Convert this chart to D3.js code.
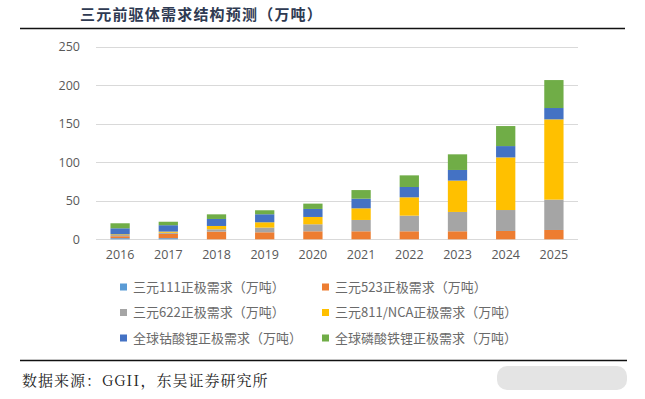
<!DOCTYPE html>
<html>
<head>
<meta charset="utf-8">
<script src="https://cdn.jsdelivr.net/npm/d3@7"></script>
<style>
  body { margin: 0; background: #fff; }
  svg { display: block; font-family: "Noto Sans CJK SC", "Noto Sans", sans-serif; }
</style>
</head>
<body>
<svg id="chart" width="645" height="399"></svg>
<script>
// years and tick labels
var years = ['2016', '2017', '2018', '2019', '2020', '2021', '2022', '2023', '2024', '2025']
var yTicks = [0, 50, 100, 150, 200, 250]

// demand per series (万吨)
var ncm111 = [1.5, 1.5, 0, 0, 0, 0, 0, 0, 0, 0]
var ncm523 = [2.5, 5.5, 10, 9.1, 10.4, 10.4, 10.4, 10.4, 10.8, 12.1]
var ncm622 = [1.5, 1.5, 3, 6.1, 9.1, 14.7, 20.3, 25.1, 27.2, 39.4]
var ncm811 = [1, 1.5, 4.3, 6.9, 9.5, 15.1, 23.8, 40.7, 68.3, 104.2]
var lco = [7.8, 8.3, 9.1, 10.4, 10.4, 12.5, 13.4, 13.8, 14.7, 14.7]
var lfp = [6.5, 4.5, 6, 5.2, 6.9, 11.2, 15.1, 20.3, 26, 36.3]

var seriesNames = ['三元111正极需求（万吨）', '三元523正极需求（万吨）', '三元622正极需求（万吨）',
  '三元811/NCA正极需求（万吨）', '全球钴酸锂正极需求（万吨）', '全球磷酸铁锂正极需求（万吨）']
var colors = ['#5b9bd5', '#ed7d31', '#a5a5a5', '#ffc000', '#4472c4', '#70ad47']

var svg = d3.select('#chart')

// title + rules
svg.append('text')
  .attr('x', 80).attr('y', 20)
  .attr('font-size', 15).attr('font-weight', 'bold')
  .attr('letter-spacing', 1.2)
  .attr('fill', '#2e3a52')
  .text('三元前驱体需求结构预测（万吨）')
svg.append('line').attr('x1', 20).attr('x2', 625).attr('y1', 28.5).attr('y2', 28.5)
  .attr('stroke', '#111').attr('stroke-width', 1.3)
svg.append('line').attr('x1', 20).attr('x2', 627).attr('y1', 360.5).attr('y2', 360.5)
  .attr('stroke', '#111').attr('stroke-width', 1.3)

// build rows for the stack
var keys = ['s0', 's1', 's2', 's3', 's4', 's5']
var cols = [ncm111, ncm523, ncm622, ncm811, lco, lfp]
var rows = years.map(function(y, i) {
  var r = {year: y}
  keys.forEach(function(k, j) { r[k] = cols[j][i] })
  return r
})

var x = d3.scaleBand().domain(years).range([96, 578]).paddingInner(0.6).paddingOuter(0.3)
var y = d3.scaleLinear().domain([0, 250]).range([239.3, 46.7])

// gridlines
svg.append('g').selectAll('line').data(yTicks).enter().append('line')
  .attr('x1', 96).attr('x2', 578)
  .attr('y1', function(d) { return Math.round(y(d)) + 0.5 })
  .attr('y2', function(d) { return Math.round(y(d)) + 0.5 })
  .attr('stroke', '#d9d9d9').attr('stroke-width', 1)

// y axis labels
var yAxis = svg.append('g').attr('transform', 'translate(96,0)')
  .call(d3.axisLeft(y).tickValues(yTicks).tickSize(0).tickPadding(16))
yAxis.select('.domain').remove()
yAxis.selectAll('text').attr('font-size', 12.5).attr('fill', '#595959')
  .attr('font-family', '"Open Sans", "Noto Sans", sans-serif')

// x axis labels
var xAxis = svg.append('g').attr('transform', 'translate(0,239.3)')
  .call(d3.axisBottom(x).tickSize(0).tickPadding(11))
xAxis.select('.domain').remove()
xAxis.selectAll('text').attr('font-size', 12.5).attr('fill', '#595959')
  .attr('font-family', '"Open Sans", "Noto Sans", sans-serif')

// stacked bars
var stacked = d3.stack().keys(keys)(rows)
svg.append('g').selectAll('g').data(stacked).enter().append('g')
  .attr('fill', function(d, i) { return colors[i] })
  .selectAll('rect').data(function(d) { return d }).enter().append('rect')
    .attr('x', function(d) { return x(d.data.year) })
    .attr('width', x.bandwidth())
    .attr('y', function(d) { return y(d[1]) })
    .attr('height', function(d) { return y(d[0]) - y(d[1]) })

// legend, two columns, three rows
var legend = svg.append('g').selectAll('g').data(seriesNames).enter().append('g')
  .attr('transform', function(d, i) {
    return 'translate(' + (i % 2 == 0 ? 120 : 322) + ',' + (287 + Math.floor(i / 2) * 25.5) + ')'
  })
legend.append('rect').attr('x', 0).attr('y', -3.5).attr('width', 7).attr('height', 7)
  .attr('fill', function(d, i) { return colors[i] })
legend.append('text').attr('x', 13).attr('y', 0).attr('dy', '0.35em')
  .attr('font-size', 13).attr('fill', '#6a6a6a')
  .text(function(d) { return d })

// source
svg.append('text').attr('x', 22).attr('y', 386)
  .attr('font-size', 15).attr('fill', '#222')
  .attr('letter-spacing', 1)
  .attr('font-family', '"Noto Serif CJK SC", "Noto Sans CJK SC", serif')
  .text('数据来源：GGII，东吴证券研究所')

// blurred watermark patch at bottom right
svg.append('rect').attr('x', 497).attr('y', 366).attr('width', 130).attr('height', 24)
  .attr('rx', 10).attr('fill', '#e4e4e4')
</script>
</body>
</html>
